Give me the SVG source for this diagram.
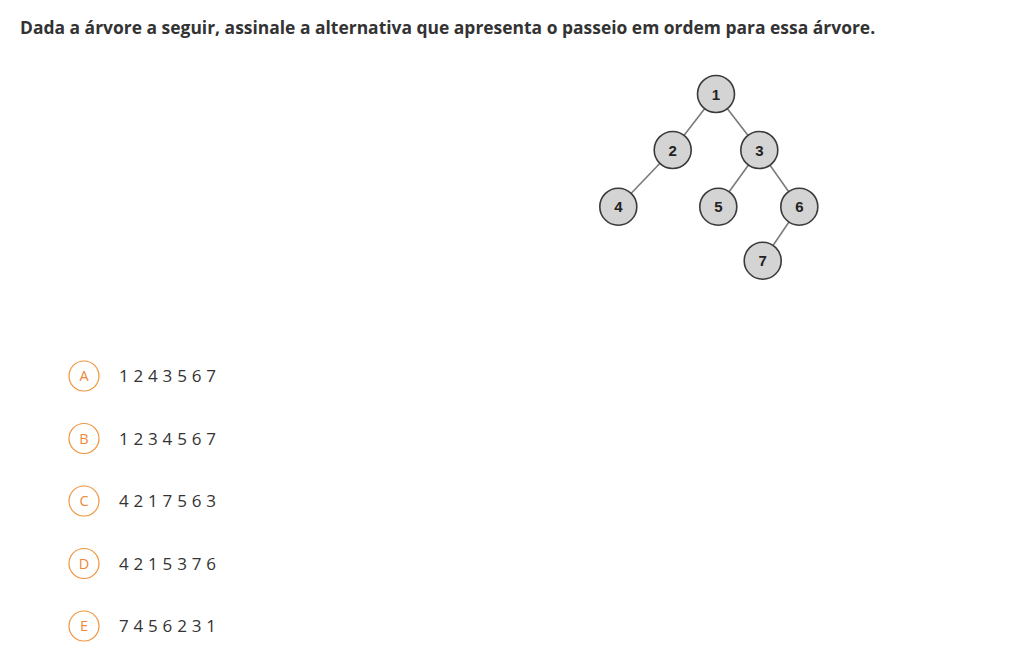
<svg xmlns="http://www.w3.org/2000/svg" width="1017" height="656" viewBox="0 0 1017 656">
<style>
.title{font-family:"Open Sans",sans-serif;font-weight:bold;font-size:17.45px;fill:#333}
.edge{stroke:#7a7a7a;stroke-width:1.6;fill:none}
.node circle{fill:#d4d4d4;stroke:#3a3a3a;stroke-width:1.6}
.node text{font-family:"Liberation Sans",Arial,sans-serif;font-weight:bold;font-size:15px;fill:#222;text-anchor:middle}
.opt circle{fill:#fff;stroke:#f0943c;stroke-width:1.2}
.opt .l{font-family:"Open Sans",sans-serif;font-size:14.5px;fill:#f0883a;text-anchor:middle}
.opt .v{font-family:"Open Sans",sans-serif;font-size:17px;fill:#333;letter-spacing:0.2px}
</style>
<rect width="1017" height="656" fill="#fff"/>
<text class="title" x="20" y="34">Dada a árvore a seguir, assinale a alternativa que apresenta o passeio em ordem para essa árvore.</text>
<g id="connectors">
<line class="edge" x1="716" y1="94" x2="672.7" y2="150"/>
<line class="edge" x1="716" y1="94" x2="759.3" y2="150"/>
<line class="edge" x1="672.7" y1="150" x2="618.3" y2="206.7"/>
<line class="edge" x1="759.3" y1="150" x2="718.3" y2="206.7"/>
<line class="edge" x1="759.3" y1="150" x2="799.3" y2="206.7"/>
<line class="edge" x1="799.3" y1="206.7" x2="762.7" y2="260.7"/>
</g>
<g id="n1" class="node"><circle cx="716" cy="94" r="18.5"/><text x="716" y="99.5">1</text></g>
<g id="n2" class="node"><circle cx="672.7" cy="150" r="18.5"/><text x="672.7" y="155.5">2</text></g>
<g id="n3" class="node"><circle cx="759.3" cy="150" r="18.5"/><text x="759.3" y="155.5">3</text></g>
<g id="n4" class="node"><circle cx="618.3" cy="206.7" r="18.5"/><text x="618.3" y="212.2">4</text></g>
<g id="n5" class="node"><circle cx="718.3" cy="206.7" r="18.5"/><text x="718.3" y="212.2">5</text></g>
<g id="n6" class="node"><circle cx="799.3" cy="206.7" r="18.5"/><text x="799.3" y="212.2">6</text></g>
<g id="n7" class="node"><circle cx="762.7" cy="260.7" r="18.5"/><text x="762.7" y="266.2">7</text></g>
<g id="optA" class="opt"><circle cx="84" cy="376" r="15"/><text class="l" x="84" y="381">A</text><text class="v" x="119" y="382">1 2 4 3 5 6 7</text></g>
<g id="optB" class="opt"><circle cx="84" cy="438.5" r="15"/><text class="l" x="84" y="443.5">B</text><text class="v" x="119" y="444.5">1 2 3 4 5 6 7</text></g>
<g id="optC" class="opt"><circle cx="84" cy="501" r="15"/><text class="l" x="84" y="506">C</text><text class="v" x="119" y="507">4 2 1 7 5 6 3</text></g>
<g id="optD" class="opt"><circle cx="84" cy="563.5" r="15"/><text class="l" x="84" y="568.5">D</text><text class="v" x="119" y="569.5">4 2 1 5 3 7 6</text></g>
<g id="optE" class="opt"><circle cx="84" cy="626" r="15"/><text class="l" x="84" y="631">E</text><text class="v" x="119" y="632">7 4 5 6 2 3 1</text></g>
</svg>
